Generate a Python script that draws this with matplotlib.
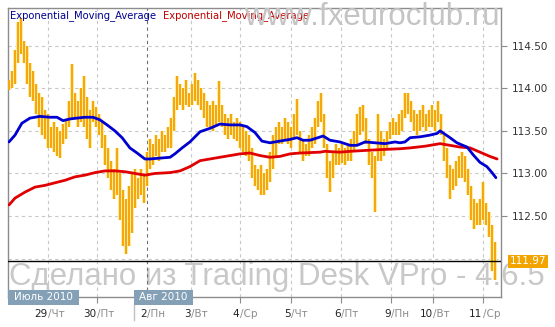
import matplotlib
matplotlib.use("Agg")
import matplotlib.pyplot as plt
from matplotlib.patches import Rectangle
import matplotlib.transforms as mtransforms

# ---------------- data ----------------
bar_high = [114.10, 114.20, 114.45, 114.78, 114.82, 114.55, 114.50, 114.30, 114.20, 114.05,
            113.95, 113.90, 113.75, 113.70, 113.55, 113.60, 113.55, 113.50, 113.58, 113.62,
            113.85, 114.28, 113.95, 113.85, 114.00, 114.15, 113.90, 113.75, 113.85, 113.78,
            113.70, 113.60, 113.45, 113.30, 113.15, 113.05, 113.30, 113.00, 112.80, 112.70,
            112.85, 113.00, 113.05, 112.95, 113.05, 112.98, 113.25, 113.40, 113.35, 113.45,
            113.40, 113.50, 113.45, 113.55, 113.65, 113.90, 114.15, 114.05, 114.00, 114.10,
            113.95, 114.05, 114.18, 114.10, 114.00, 113.95, 113.85, 113.80, 113.85, 113.80,
            114.08, 113.80, 113.70, 113.65, 113.70, 113.60, 113.65, 113.60, 113.55, 113.50,
            113.45, 113.30, 113.10, 113.05, 113.10, 113.00, 113.05, 113.25, 113.45, 113.55,
            113.60, 113.55, 113.65, 113.60, 113.55, 113.70, 113.88, 113.50, 113.40, 113.35,
            113.45, 113.55, 113.65, 113.85, 113.95, 113.70, 113.35, 113.15, 113.25, 113.35,
            113.30, 113.35, 113.30, 113.35, 113.40, 113.50, 113.70, 113.78, 113.80, 113.65,
            113.40, 113.25, 113.20, 113.70, 113.50, 113.40, 113.50, 113.60, 113.65, 113.60,
            113.70, 113.75, 113.95, 113.95, 113.85, 113.75, 113.70, 113.75, 113.80, 113.70,
            113.75, 113.80, 113.75, 113.85, 113.70, 113.45, 113.30, 113.10, 113.05, 113.15,
            113.20, 113.25, 113.20, 113.05, 112.85, 112.70, 112.65, 112.70, 112.90, 112.65,
            112.55, 112.40, 112.20]
bar_low = [113.98, 114.00, 114.05, 114.30, 114.40, 114.30, 114.05, 113.90, 113.85, 113.70,
           113.55, 113.45, 113.40, 113.30, 113.30, 113.25, 113.20, 113.18, 113.35, 113.40,
           113.55, 113.65, 113.65, 113.55, 113.60, 113.55, 113.40, 113.30, 113.60, 113.55,
           113.45, 113.30, 113.10, 112.95, 112.80, 112.70, 112.75, 112.45, 112.15, 112.05,
           112.15, 112.30, 112.60, 112.70, 112.75, 112.65, 112.85, 113.05, 113.10, 113.20,
           113.15, 113.25, 113.25, 113.30, 113.30, 113.50, 113.75, 113.80, 113.75, 113.80,
           113.78, 113.80, 113.85, 113.80, 113.75, 113.65, 113.55, 113.55, 113.50, 113.55,
           113.60, 113.55, 113.45, 113.40, 113.45, 113.40, 113.38, 113.30, 113.25, 113.20,
           113.15, 112.95, 112.85, 112.80, 112.75, 112.75, 112.80, 112.90, 113.05, 113.20,
           113.35, 113.35, 113.40, 113.35, 113.30, 113.40, 113.45, 113.25, 113.15, 113.20,
           113.20, 113.30, 113.35, 113.55, 113.60, 113.30, 112.95, 112.78, 112.95, 113.10,
           113.10, 113.12, 113.10, 113.15, 113.15, 113.25, 113.35, 113.45, 113.50, 113.35,
           113.10, 112.95, 112.55, 113.15, 113.15, 113.20, 113.30, 113.40, 113.45, 113.45,
           113.45, 113.50, 113.65, 113.70, 113.60, 113.50, 113.45, 113.50, 113.55, 113.50,
           113.55, 113.55, 113.50, 113.60, 113.45, 113.15, 112.95, 112.70, 112.80, 112.85,
           112.95, 112.95, 112.90, 112.75, 112.45, 112.35, 112.40, 112.40, 112.45, 112.40,
           112.25, 111.85, 111.75]

ema_blue_x = [0, 2, 4.3, 7, 10.3, 13.7, 16, 18, 20.3, 22.7, 25.3, 28, 30.3, 32.7, 35.3,
              37.7, 40.3, 42.7, 45.3, 47, 50.3, 53.7, 55.3, 57.7, 60.3, 63.7, 67, 70.3,
              73.7, 77, 79.3, 82, 84.3, 87, 90.3, 93.7, 96, 98, 100.3, 103, 104.7, 107,
              110.3, 113.7, 116, 118.7, 122, 125.3, 128.7, 130.3, 132, 133.7, 137, 140.3,
              142.7, 143.7, 147, 149.3, 151.3, 152.7, 154.7, 157, 159.3, 161, 162.3]
ema_blue = [113.37, 113.45, 113.59, 113.65, 113.67, 113.66, 113.66, 113.62, 113.64, 113.65,
            113.66, 113.66, 113.63, 113.57, 113.50, 113.42, 113.30, 113.24, 113.17, 113.17,
            113.18, 113.19, 113.23, 113.30, 113.37, 113.49, 113.53, 113.58, 113.57, 113.57,
            113.55, 113.48, 113.38, 113.36, 113.38, 113.40, 113.42, 113.39, 113.39, 113.42,
            113.44, 113.39, 113.37, 113.33, 113.33, 113.37, 113.36, 113.35, 113.37, 113.36,
            113.37, 113.42, 113.43, 113.45, 113.47, 113.50, 113.42, 113.36, 113.33, 113.31,
            113.22, 113.13, 113.08, 113.01, 112.95]

ema_red_x = [0, 2, 5.3, 8.7, 12, 15.3, 18.7, 22, 25.3, 28.7, 32, 35.3, 38.7, 42, 45.3,
             48.7, 53.7, 57, 60.3, 63.7, 67, 70.3, 73.7, 77, 80.3, 83.7, 87, 90.3, 93.7,
             97, 103.7, 105.3, 110.3, 113.7, 123.7, 130.3, 133.7, 138.7, 143.7, 147, 150.3,
             153.7, 157, 160.3, 162.7]
ema_red = [112.63, 112.71, 112.78, 112.84, 112.86, 112.89, 112.92, 112.96, 112.98, 113.01,
           113.03, 113.03, 113.02, 113.00, 112.98, 113.00, 113.01, 113.03, 113.08, 113.15,
           113.17, 113.19, 113.21, 113.23, 113.24, 113.21, 113.19, 113.20, 113.23, 113.24,
           113.25, 113.26, 113.25, 113.26, 113.28, 113.29, 113.30, 113.32, 113.35, 113.33,
           113.31, 113.30, 113.25, 113.20, 113.17]

last_price = 111.97
last_price_label = "111.97"

day_tick_pos = [13, 29.33, 46, 60.67, 77, 94, 110.67, 127.33, 141.33, 158]
day_numbers = ["29", "30", "2", "3", "4", "5", "6", "9", "10", "11"]
day_names = ["/Чт", "/Пт", "/Пн", "/Вт", "/Ср", "/Чт", "/Пт", "/Пн", "/Вт", "/Ср"]
price_ticks = [112.5, 113.0, 113.5, 114.0, 114.5]
price_tick_labels = ["112.50", "113.00", "113.50", "114.00", "114.50"]
grid_levels = [112.0, 112.5, 113.0, 113.5, 114.0, 114.5]
month_labels = ["Июль 2010", "Авг 2010"]
legend_labels = ["Exponential_Moving_Average", "Exponential_Moving_Average"]

# ---------------- figure ----------------
W, H = 555, 327
fig = plt.figure(figsize=(W / 100, H / 100), dpi=100)
fig.patch.set_facecolor("white")

def fx(px):
    return px / W

def fy(py):
    return 1 - py / H

ax = fig.add_axes([fx(8), fy(297), fx(501) - fx(8), fy(8) - fy(297)])
ax.set_xlim(-0.33, 164)
ax.set_ylim(111.549, 114.943)
ax.set_facecolor("white")

# background watermark (under the bars)
wm_tr = mtransforms.blended_transform_factory(fig.transFigure, fig.transFigure)
ax.text(fx(9), fy(285), "Сделано из Trading Desk VPro - 4.6.5",
        transform=wm_tr, fontsize=22.5, family="Liberation Sans", color="#c8c8c8",
        ha="left", va="baseline", zorder=0.5, clip_on=False)

# grid
for g in grid_levels:
    ax.axhline(g, color="#c8c8c8", lw=0.8, ls=(0, (3, 3)), zorder=1)
for i, p in enumerate(day_tick_pos):
    c = "#707070" if day_numbers[i] == "2" else "#c8c8c8"
    ax.axvline(p, color=c, lw=0.8, ls=(0, (3, 3)), zorder=1)

xs = list(range(len(bar_high)))
ax.vlines(xs, bar_low, bar_high, color="#fff0a8", lw=3.0, zorder=2)
ax.vlines(xs, bar_low, bar_high, color="#f5a70f", lw=1.5, zorder=3)

ax.plot(ema_red_x, ema_red, color="#e00000", lw=2.0, zorder=5, solid_capstyle="round")
ax.plot(ema_blue_x, ema_blue, color="#0000d0", lw=2.0, zorder=6, solid_capstyle="round")

ax.axhline(last_price, color="black", lw=1.0, zorder=7)

# axes styling
for s in ax.spines.values():
    s.set_color("#8c8c8c")
    s.set_linewidth(1.0)

ax.yaxis.tick_right()
ax.set_yticks(price_ticks)
ax.set_yticklabels(price_tick_labels)
ax.tick_params(axis="y", length=4, color="#8c8c8c", pad=4, labelsize=7.5,
               labelcolor="#333333")
ax.set_xticks(day_tick_pos)
ax.set_xticklabels([])
ax.tick_params(axis="x", length=4, color="#8c8c8c")

# last price tag
tag_tr = mtransforms.blended_transform_factory(fig.transFigure, ax.transData)
ax.text(fx(510), last_price, last_price_label, transform=tag_tr,
        ha="left", va="center", fontsize=7.5, color="white", zorder=8,
        bbox=dict(boxstyle="square,pad=0.15", fc="#f2a400", ec="none"),
        clip_on=False)

# x labels (number black, day name gray)
tr = mtransforms.blended_transform_factory(ax.transData, fig.transFigure)
for p, n, d in zip(day_tick_pos, day_numbers, day_names):
    ax.text(p - 0.15, fy(314), n, transform=tr, ha="right", va="center", fontsize=7.5,
            color="#222222", clip_on=False)
    ax.text(p + 0.15, fy(314), d, transform=tr, ha="left", va="center", fontsize=7.5,
            color="#8c8c8c", clip_on=False)

# month boxes
box_specs = [(8, 79), (134, 193)]
for (x0, x1), lab in zip(box_specs, month_labels):
    fig.patches.append(Rectangle((fx(x0), fy(305)), fx(x1) - fx(x0), fy(290) - fy(305),
                                 transform=fig.transFigure, fc="#84a0b6", ec="none",
                                 zorder=10))
    fig.text(fx((x0 + x1) / 2), fy(297.5), lab, ha="center", va="center",
             fontsize=7.5, color="white", zorder=11)
fig.add_artist(plt.Line2D([fx(134), fx(134)], [fy(305), fy(320)], color="#c0c0c0",
                          lw=1.0, transform=fig.transFigure))

# top legend
fig.text(fx(10), fy(16), legend_labels[0], fontsize=7.2, color="#000090",
         ha="left", va="center", zorder=12)
fig.text(fx(163), fy(16), legend_labels[1], fontsize=7.2, color="#c00000",
         ha="left", va="center", zorder=12)

# top watermark
fig.text(fx(500), fy(25), "www.fxeuroclub.ru", fontsize=22.5, family="Liberation Sans",
         color="#c4c4c4", ha="right", va="baseline", zorder=12)

fig.savefig("out.png", dpi=100, facecolor="white")
